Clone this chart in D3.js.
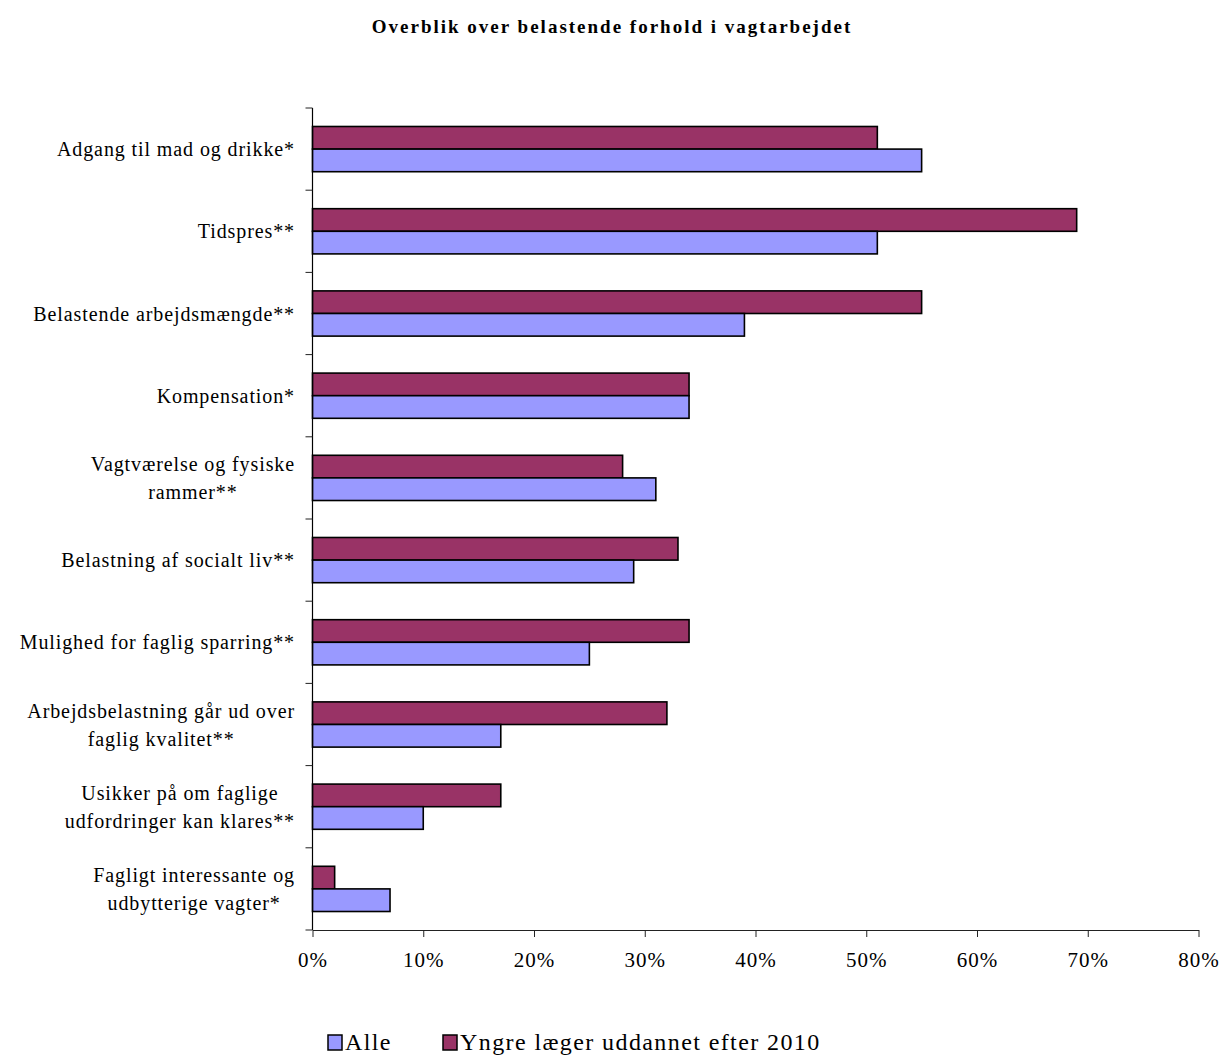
<!DOCTYPE html>
<html>
<head>
<meta charset="utf-8">
<script src="https://cdn.jsdelivr.net/npm/d3@7"></script>
<style>
  body { margin: 0; background: #fff; }
  svg { display: block; font-family: "Liberation Serif", "Times New Roman", serif; }
</style>
</head>
<body>
<svg id="chart" width="1224" height="1055"></svg>
<script>
// Category labels (top to bottom); "\n" marks a wrapped line
const categories = [
  "Adgang til mad og drikke*",
  "Tidspres**",
  "Belastende arbejdsmængde**",
  "Kompensation*",
  "Vagtværelse og fysiske\nrammer**",
  "Belastning af socialt liv**",
  "Mulighed for faglig sparring**",
  "Arbejdsbelastning går ud over\nfaglig kvalitet**",
  "Usikker på om faglige\nudfordringer kan klares**",
  "Fagligt interessante og\nudbytterige vagter*"
];
// Share (%) per category
const alleValues  = [55, 51, 39, 34, 31, 29, 25, 17, 10, 7];
const yngreValues = [51, 69, 55, 34, 28, 33, 34, 32, 17, 2];
const seriesNames = ["Alle", "Yngre læger uddannet efter 2010"];
const xTicks = [0, 10, 20, 30, 40, 50, 60, 70, 80];

const colors = { "Alle": "#9999FF", "Yngre læger uddannet efter 2010": "#993366" };

const svg = d3.select("#chart");
const plotLeft = 312.5, plotRight = 1198.5, plotTop = 108, plotBottom = 930;

const x = d3.scaleLinear().domain([0, 80]).range([plotLeft, plotRight]);
const y = d3.scaleBand().domain(categories).range([plotTop, plotBottom]).paddingInner(0.45).paddingOuter(0.225);
// Bars within each category: Yngre on top, Alle beneath
const sub = d3.scaleBand().domain([seriesNames[1], seriesNames[0]]).range([0, y.bandwidth()]);

// Title
svg.append("text")
  .attr("x", 612).attr("y", 33)
  .attr("text-anchor", "middle")
  .attr("font-weight", "bold")
  .attr("font-size", 19)
  .attr("letter-spacing", 2)
  .text("Overblik over belastende forhold i vagtarbejdet");

// Bars
const rows = categories.map((c, i) => ({ c, alle: alleValues[i], yngre: yngreValues[i] }));
const g = svg.append("g");
rows.forEach(r => {
  [[seriesNames[1], r.yngre], [seriesNames[0], r.alle]].forEach(([s, v]) => {
    g.append("rect")
      .attr("x", x(0))
      .attr("y", y(r.c) + sub(s))
      .attr("width", x(v) - x(0))
      .attr("height", sub.bandwidth())
      .attr("fill", colors[s])
      .attr("stroke", "#000")
      .attr("stroke-width", 1.6);
  });
});

// X axis
const xAxis = d3.axisBottom(x).tickValues(xTicks).tickFormat(d => d + "%").tickSize(7).tickSizeOuter(0);
const gx = svg.append("g").attr("transform", `translate(0,${plotBottom})`).call(xAxis);
gx.select(".domain").attr("stroke", "#222");
gx.selectAll(".tick line").attr("stroke", "#222");
gx.selectAll(".tick text")
  .attr("font-family", "Liberation Serif, serif")
  .attr("font-size", 21)
  .attr("letter-spacing", 1)
  .attr("fill", "#000")
  .attr("y", 17)
  .attr("dy", "0.95em");

// Y axis line with ticks at category boundaries
svg.append("line")
  .attr("x1", plotLeft).attr("x2", plotLeft).attr("y1", plotTop).attr("y2", plotBottom)
  .attr("stroke", "#000").attr("stroke-width", 1.2);
const step = y.step();
d3.range(categories.length + 1).forEach(i => {
  const yy = plotTop + i * step;
  svg.append("line")
    .attr("x1", plotLeft - 7).attr("x2", plotLeft).attr("y1", yy).attr("y2", yy)
    .attr("stroke", "#222");
});

// Category labels
const labelRight = 295;
categories.forEach(c => {
  const lines = c.split("\n");
  const cy = y(c) + y.bandwidth() / 2;
  const lh = 28;
  const t = svg.append("text")
    .attr("font-size", 20)
    .attr("letter-spacing", 0.9)
    .attr("fill", "#000");
  lines.forEach((ln, i) => {
    t.append("tspan")
      .attr("x", labelRight)
      .attr("y", cy + (i - (lines.length - 1) / 2) * lh)
      .attr("dy", "0.35em")
      .text(ln);
  });
  if (lines.length === 1) {
    t.attr("text-anchor", "end");
  } else {
    // wrapped labels are centred as a block whose right edge is labelRight
    const widths = t.selectAll("tspan").nodes().map(n => n.getComputedTextLength());
    const w = d3.max(widths);
    t.attr("text-anchor", "middle");
    t.selectAll("tspan").attr("x", labelRight - w / 2);
  }
});

// Legend
const legend = svg.append("g").attr("transform", "translate(0,1042)");
const legendItems = [{ name: seriesNames[0], x: 328 }, { name: seriesNames[1], x: 443 }];
legendItems.forEach(it => {
  legend.append("rect")
    .attr("x", it.x).attr("y", -7).attr("width", 14).attr("height", 15)
    .attr("fill", colors[it.name]).attr("stroke", "#000").attr("stroke-width", 1.5);
  legend.append("text")
    .attr("x", it.x + 17).attr("y", 0).attr("dy", "0.35em")
    .attr("font-size", 24)
    .attr("letter-spacing", 1.4)
    .text(it.name);
});
</script>
</body>
</html>
